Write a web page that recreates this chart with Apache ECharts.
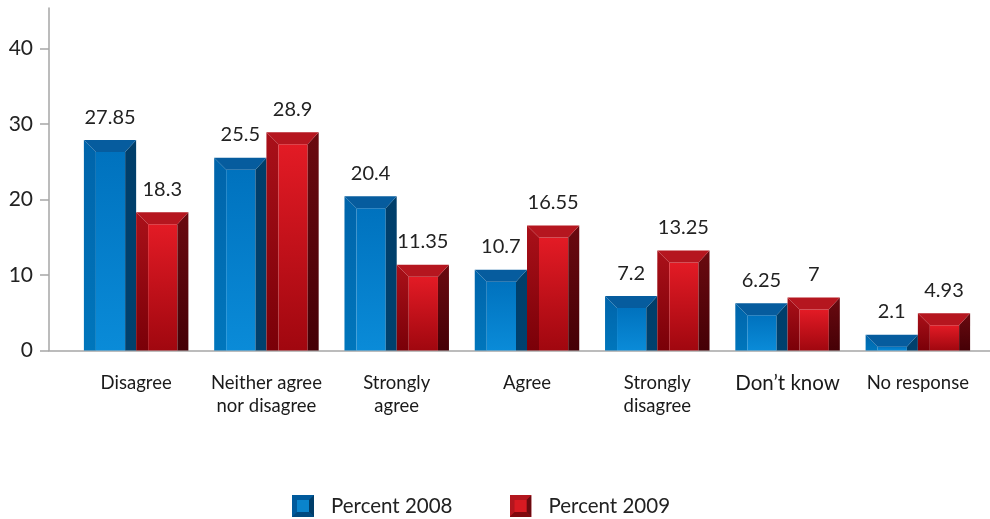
<!DOCTYPE html>
<html>
<head>
<meta charset="utf-8">
<script src="https://cdn.jsdelivr.net/npm/echarts@6/dist/echarts.min.js"></script>
<style>
  html, body { margin: 0; padding: 0; background: #fff; }
  #chart { width: 990px; height: 519px; }
</style>
</head>
<body>
<div id="chart"></div>
<script>
// Survey responses, 2008 vs 2009
const categories = [
  'Disagree',
  'Neither agree\nnor disagree',
  'Strongly\nagree',
  'Agree',
  'Strongly\ndisagree',
  'Don\u2019t know',
  'No response'
];
const percent2008 = [27.85, 25.5, 20.4, 10.7, 7.2, 6.25, 2.1];
const percent2009 = [18.3, 28.9, 11.35, 16.55, 13.25, 7, 4.93];
const yTicks = [0, 10, 20, 30, 40];
const seriesNames = ['Percent 2008', 'Percent 2009'];

const FONT = 'Lato, "Open Sans", sans-serif';
const Y_MAX = 45.33;

const lg = (a, b) => new echarts.graphic.LinearGradient(0, 0, 0, 1, [
  { offset: 0, color: a }, { offset: 1, color: b }
]);

const palettes = {
  blue: {
    top: '#065c9e',
    left: lg('#0064aa', '#0076bc'),
    face: lg('#0072be', '#0a8bd8'),
    right: lg('#003e6a', '#00416e')
  },
  red: {
    top: '#b5161f',
    left: lg('#aa1019', '#7a0008'),
    face: lg('#e31b25', '#a0070f'),
    right: lg('#6a0a10', '#450006')
  }
};

// Bevelled bar: left, top and right facets around a flat front face
function bevelBar(side, pal) {
  return function (params, api) {
    const idx = api.value(0);
    const v = api.value(1);
    const top = api.coord([idx, v]);
    const base = api.coord([idx, 0]);
    const band = api.size([1, 0])[0];
    const w = band * 0.401;
    const x0 = side < 0 ? top[0] - w : top[0];
    const x1 = x0 + w;
    const y0 = top[1];
    const y1 = base[1];
    const b = Math.min(12, y1 - y0);
    const bl = 12, br = 11;
    return {
      type: 'group',
      children: [
        { type: 'polygon', shape: { points: [[x0, y0], [x0 + bl, y0 + b], [x0 + bl, y1], [x0, y1]] },
          style: { fill: pal.left } },
        { type: 'rect', shape: { x: x0 + bl, y: y0 + b, width: w - bl - br, height: y1 - y0 - b },
          style: { fill: pal.face } },
        { type: 'polygon', shape: { points: [[x1, y0], [x1, y1], [x1 - br, y1], [x1 - br, y0 + b]] },
          style: { fill: pal.right } },
        { type: 'polygon', shape: { points: [[x0, y0], [x1, y0], [x1 - br, y0 + b], [x0 + bl, y0 + b]] },
          style: { fill: pal.top } },
        { type: 'text', x: (x0 + x1) / 2, y: y0 - 23,
          style: { text: String(v), font: '20px ' + FONT, fill: '#222', align: 'center', verticalAlign: 'middle' } }
      ]
    };
  };
}

function legendIcon(c) {
  const svg = `<svg xmlns="http://www.w3.org/2000/svg" width="22" height="22">
    <rect width="22" height="22" fill="${c[0]}"/>
    <polygon points="22,0 22,22 17,17 17,5" fill="${c[1]}"/>
    <polygon points="0,22 22,22 17,17 5,17" fill="${c[2]}"/>
    <rect x="5" y="5" width="12" height="12" fill="${c[3]}"/>
  </svg>`;
  return 'image://data:image/svg+xml;charset=utf-8,' + encodeURIComponent(svg);
}

const chart = echarts.init(document.getElementById('chart'), null, { renderer: 'canvas' });

chart.setOption({
  animation: false,
  backgroundColor: '#fff',
  grid: [
    { left: 49, right: 0, top: 8, bottom: 168.5 },
    { left: 71, right: 7, top: 8, bottom: 168.5 }
  ],
  xAxis: [
    { gridIndex: 0, type: 'value', min: 0, max: 1,
      axisLine: { show: true, lineStyle: { color: '#a6a6a6', width: 1.5 } },
      axisTick: { show: false }, axisLabel: { show: false }, splitLine: { show: false } },
    { gridIndex: 1, type: 'category', data: categories,
      axisLine: { show: false }, axisTick: { show: false },
      axisLabel: { interval: 0, margin: 21, color: '#1a1a1a', fontFamily: FONT, fontSize: 18.5, lineHeight: 23,
        formatter: (val) => val === 'Don\u2019t know' ? '{big|' + val + '}' : val,
        rich: { big: { fontSize: 20.5, fontFamily: FONT, color: '#1a1a1a' } } } }
  ],
  yAxis: [
    { gridIndex: 0, type: 'value', min: 0, max: Y_MAX,
      axisLine: { show: true, lineStyle: { color: '#a6a6a6', width: 1.5 } },
      axisTick: { show: true, length: 9, customValues: yTicks, lineStyle: { color: '#a6a6a6', width: 1.5 } },
      axisLabel: { customValues: yTicks, margin: 16, color: '#222', fontFamily: FONT, fontSize: 21 },
      splitLine: { show: false } },
    { gridIndex: 1, type: 'value', min: 0, max: Y_MAX, show: false }
  ],
  legend: {
    left: 287, top: 490,
    itemWidth: 22, itemHeight: 22, itemGap: 57,
    textStyle: { fontFamily: FONT, fontSize: 20.5, color: '#222', padding: [0, 0, 0, 12] },
    data: [
      { name: seriesNames[0], icon: legendIcon(['#005a9c', '#003e6a', '#004a80', '#0a84cc']) },
      { name: seriesNames[1], icon: legendIcon(['#b3161e', '#6a0a10', '#80080e', '#d81a22']) }
    ]
  },
  series: [
    { name: seriesNames[0], type: 'custom', xAxisIndex: 1, yAxisIndex: 1,
      renderItem: bevelBar(-1, palettes.blue), itemStyle: { color: '#0070bb' },
      data: percent2008.map((v, i) => [i, v]) },
    { name: seriesNames[1], type: 'custom', xAxisIndex: 1, yAxisIndex: 1,
      renderItem: bevelBar(1, palettes.red), itemStyle: { color: '#c8141c' },
      data: percent2009.map((v, i) => [i, v]) }
  ]
});
</script>
</body>
</html>
